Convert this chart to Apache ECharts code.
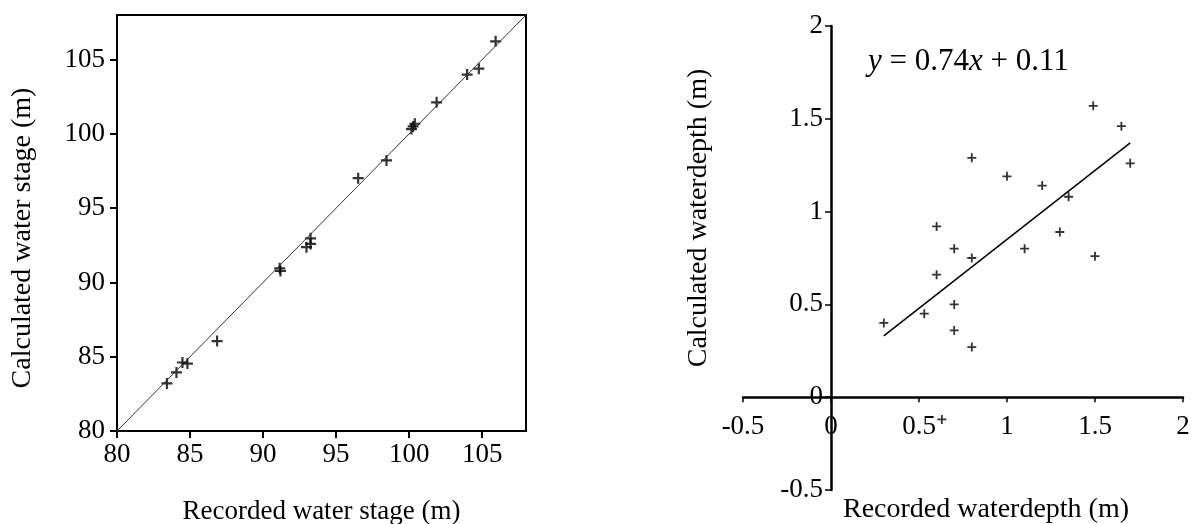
<!DOCTYPE html>
<html>
<head>
<meta charset="utf-8">
<script src="https://cdn.jsdelivr.net/npm/echarts@6/dist/echarts.min.js"></script>
<style>
html, body { margin: 0; background: #fff; }
#main { width: 1196px; height: 524px; }
</style>
</head>
<body>
<div id="main"></div>
<script>
// left panel: water stage (m)
var stageRecorded   = [83.42, 84.07, 84.48, 84.82, 86.85, 91.14, 91.19, 92.97, 93.25, 93.25, 96.51, 98.45, 100.16, 100.27, 100.39, 101.88, 103.97, 104.77, 105.92];
var stageCalculated = [83.20, 83.94, 84.61, 84.54, 86.05, 90.95, 90.77, 92.37, 92.59, 92.97, 97.02, 98.21, 100.32, 100.50, 100.68, 102.12, 103.99, 104.39, 106.23];
var stageTicks = [80, 85, 90, 95, 100, 105];
var stageRange = [80, 108];

// right panel: water depth (m)
var depthRecorded   = [0.3, 0.53, 0.6, 0.6, 0.7, 0.7, 0.7, 0.8, 0.8, 0.8, 1.0, 1.1, 1.2, 1.3, 1.35, 1.49, 1.5, 1.65, 1.7, 0.63];
var depthCalculated = [0.40, 0.45, 0.92, 0.66, 0.80, 0.50, 0.36, 1.29, 0.75, 0.27, 1.19, 0.80, 1.14, 0.89, 1.08, 1.57, 0.76, 1.46, 1.26, -0.12];
var depthTicks = [-0.5, 0, 0.5, 1, 1.5, 2];
var depthRange = [-0.5, 2];
var fitX = [0.3, 1.7];
var fitY = [0.33, 1.37];

var FONT = 'Liberation Serif';
var CROSS = 'path://M4,0H6V4H10V6H6V10H4V6H0V4H4Z';

function pairs(xs, ys) {
    var out = [];
    for (var i = 0; i < xs.length; i++) {
        out.push([xs[i], ys[i]]);
    }
    return out;
}

var chart = echarts.init(document.getElementById('main'));

var labelStyle = {color: '#000', fontFamily: FONT};

// right grid: axes cross at zero, moved there with offset
var g2 = {left: 743, top: 26, width: 440, height: 464};
var zeroX = g2.left + (0 - depthRange[0]) / (depthRange[1] - depthRange[0]) * g2.width;
var zeroY = g2.top + (depthRange[1] - 0) / (depthRange[1] - depthRange[0]) * g2.height;

var option = {
    animation: false,
    backgroundColor: '#fff',
    grid: [
        {left: 117, top: 15, width: 409, height: 416, outerBoundsMode: 'none', containLabel: false,
            show: true, borderColor: '#000', borderWidth: 2},
        {left: g2.left, top: g2.top, width: g2.width, height: g2.height, outerBoundsMode: 'none', containLabel: false}
    ],
    xAxis: [
        {
            gridIndex: 0, type: 'value', min: stageRange[0], max: stageRange[1], interval: 5,
            splitLine: {show: false},
            axisLine: {lineStyle: {color: '#000', width: 2}},
            axisTick: {length: 7, lineStyle: {width: 2}, customValues: stageTicks},
            axisLabel: Object.assign({fontSize: 27, margin: 10, customValues: stageTicks}, labelStyle),
            name: 'Recorded water stage (m)', nameLocation: 'middle', nameGap: 67,
            nameTextStyle: Object.assign({fontSize: 27}, labelStyle)
        },
        {
            gridIndex: 1, type: 'value', min: depthRange[0], max: depthRange[1], interval: 0.5,
            offset: zeroY - (g2.top + g2.height),
            splitLine: {show: false},
            axisLine: {onZero: false, lineStyle: {color: '#000', width: 2.5}},
            axisTick: {length: 5, lineStyle: {width: 1.5}, customValues: depthTicks},
            axisLabel: Object.assign({fontSize: 27, margin: 16, customValues: depthTicks}, labelStyle),
            name: 'Recorded waterdepth (m)', nameLocation: 'middle', nameGap: 98,
            nameTextStyle: Object.assign({fontSize: 28, padding: [0, 0, 0, 46]}, labelStyle)
        }
    ],
    yAxis: [
        {
            gridIndex: 0, type: 'value', min: stageRange[0], max: stageRange[1], interval: 5,
            splitLine: {show: false},
            axisLine: {lineStyle: {color: '#000', width: 2}},
            axisTick: {length: 7, lineStyle: {width: 2}, customValues: stageTicks},
            axisLabel: Object.assign({fontSize: 27, margin: 12, customValues: stageTicks}, labelStyle),
            name: 'Calculated water stage (m)', nameLocation: 'middle', nameGap: 80,
            nameTextStyle: Object.assign({fontSize: 28, padding: [0, 30, 0, 0]}, labelStyle)
        },
        {
            gridIndex: 1, type: 'value', min: depthRange[0], max: depthRange[1], interval: 0.5,
            offset: g2.left - zeroX,
            splitLine: {show: false},
            axisLine: {onZero: false, lineStyle: {color: '#000', width: 2.5}},
            axisTick: {length: 6, lineStyle: {width: 1.5}, customValues: depthTicks},
            axisLabel: Object.assign({fontSize: 27, margin: 8, customValues: depthTicks}, labelStyle),
            name: 'Calculated waterdepth (m)', nameLocation: 'middle', nameGap: 118,
            nameTextStyle: Object.assign({fontSize: 28, padding: [0, 0, 0, 80]}, labelStyle)
        }
    ],
    graphic: [
        {
            type: 'text', left: 868, top: 46,
            style: {
                text: '{i|y} = 0.74{i|x} + 0.11',
                fill: '#000', fontFamily: FONT, fontSize: 31,
                rich: {i: {fontStyle: 'italic', fontFamily: FONT, fontSize: 31, fill: '#000'}}
            }
        }
    ],
    series: [
        {
            type: 'line', xAxisIndex: 0, yAxisIndex: 0,
            data: [[stageRange[0], stageRange[0]], [stageRange[1], stageRange[1]]],
            symbol: 'none', silent: true,
            lineStyle: {color: '#3a3030', width: 1}
        },
        {
            type: 'scatter', xAxisIndex: 0, yAxisIndex: 0,
            data: pairs(stageRecorded, stageCalculated),
            symbol: CROSS, symbolSize: 11, silent: true,
            itemStyle: {color: '#000'}
        },
        {
            type: 'line', xAxisIndex: 1, yAxisIndex: 1,
            data: pairs(fitX, fitY),
            symbol: 'none', silent: true,
            lineStyle: {color: '#000', width: 1.5}
        },
        {
            type: 'scatter', xAxisIndex: 1, yAxisIndex: 1,
            data: pairs(depthRecorded, depthCalculated),
            symbol: CROSS, symbolSize: 9, silent: true,
            itemStyle: {color: '#000'}
        }
    ]
};

chart.setOption(option);
</script>
</body>
</html>
